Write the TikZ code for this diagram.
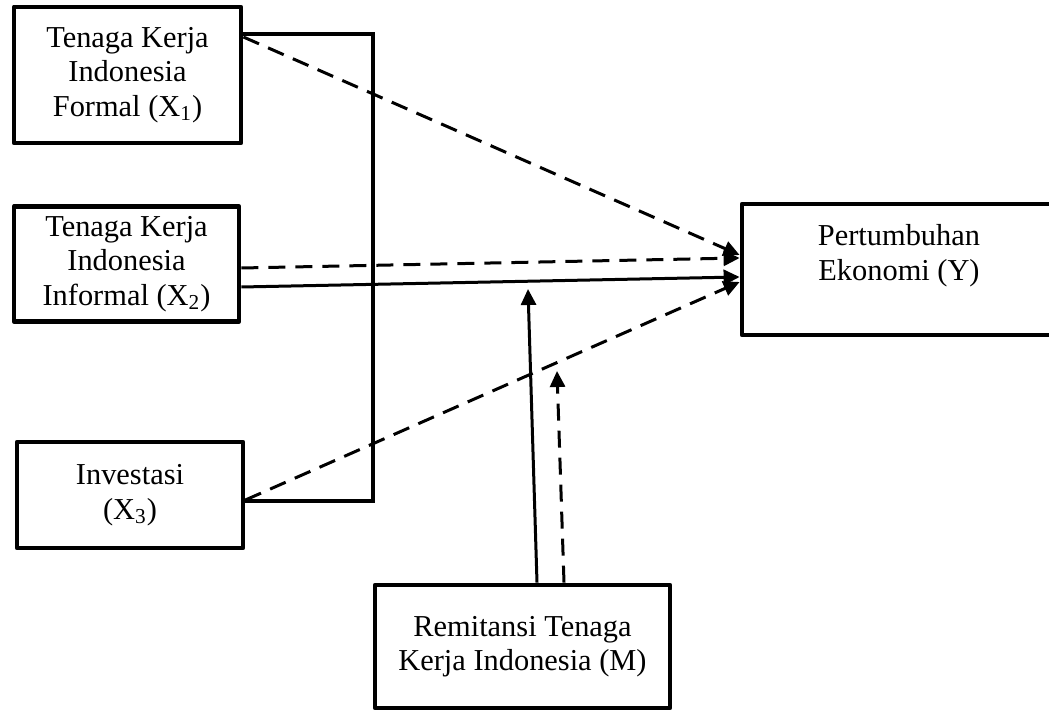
\documentclass[tikz,border=0pt]{standalone}
\usepackage{fontspec}
\setmainfont{Liberation Serif}
\usetikzlibrary{arrows.meta}

\begin{document}
\begin{tikzpicture}[x=0.5pt,y=-0.5pt,
  box/.style={draw, rectangle, line width=2.4pt, line join=round, align=center, inner sep=0pt, font=\fontsize{15.2}{17.2}\selectfont},
  link/.style={line width=1.5pt, -{Triangle[length=8pt,width=7.5pt]}},
  dashlink/.style={link, dash pattern=on 8.5pt off 5pt}]
\useasboundingbox (0,0) rectangle (1049,710);
% boxes
\node[box, minimum width=113.5pt, minimum height=68pt] (x1) at (127.5,75) {Tenaga Kerja\\Indonesia\\Formal (X\textsubscript{1})};
\node[box, minimum width=112.5pt, minimum height=57.5pt] (x2) at (126.5,264) {Tenaga Kerja\\Indonesia\\Informal (X\textsubscript{2})};
\node[box, minimum width=113pt, minimum height=53pt] (x3) at (130,495) {Investasi\\(X\textsubscript{3})};
\node[box, minimum width=157pt, minimum height=65.5pt] (y) at (899,269.5) {Pertumbuhan\\Ekonomi (Y)\\\mbox{}};
\node[box, minimum width=147.5pt, minimum height=61.5pt] (m) at (522.5,646.5) {Remitansi Tenaga\\Kerja Indonesia (M)};
% bracket
\coordinate (top) at (373,34);
\coordinate (bot) at (373,501);
\path[draw, line width=1.8pt] (x1.east |- top) -- (top) -- (bot) -- (x3.east |- bot);
% arrows to Y
\path[draw, dashlink] (x1.east |- 0,37) -- (y.west |- 0,255);
\path[draw, dashlink] (x2.east |- 0,268) -- (y.west |- 0,258);
\path[draw, link] (x2.east |- 0,287) -- (y.west |- 0,277);
\path[draw, dashlink] (x3.east |- 0,500) -- (y.west |- 0,282);
% moderation
\coordinate (p1) at (528,289);
\coordinate (p2) at (557,371);
\path[draw, link] (m.north -| 537,0) -- (p1);
\path[draw, dashlink] (m.north -| 564,0) -- (p2);
\end{tikzpicture}
\end{document}
